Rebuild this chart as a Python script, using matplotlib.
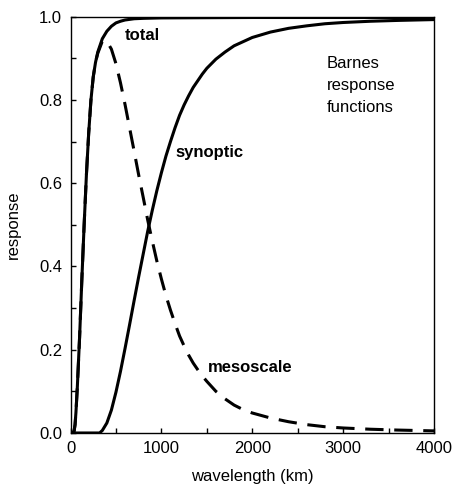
import matplotlib
matplotlib.use("Agg")
import matplotlib.pyplot as plt
from matplotlib.ticker import MultipleLocator, FormatStrFormatter

plt.rcParams['font.family'] = ['Liberation Sans', 'DejaVu Sans']

# Barnes response curves (wavelength in km, response 0..1)
total_km = [0, 25, 40, 50, 60, 75, 100, 125, 150, 175, 200, 225, 250, 275,
            300, 350, 400, 450, 500, 550, 600, 700, 800, 1000, 2000, 4000]
total_resp = [0.0, 0.0, 0.005, 0.02, 0.05, 0.11, 0.23, 0.37, 0.50, 0.62, 0.72,
              0.80, 0.855, 0.89, 0.915, 0.947, 0.965, 0.977, 0.985, 0.989,
              0.992, 0.995, 0.996, 0.997, 0.998, 0.998]

synoptic_km = [0, 320, 350, 400, 450, 500, 550, 600, 650, 700, 750, 800, 850,
               900, 950, 1000, 1050, 1100, 1150, 1200, 1250, 1300, 1350, 1400,
               1450, 1500, 1600, 1700, 1800, 1900, 2000, 2200, 2400, 2600,
               2800, 3000, 3300, 3600, 4000]
synoptic_resp = [0.0, 0.0, 0.006, 0.024, 0.055, 0.098, 0.148, 0.203, 0.26,
                 0.318, 0.375, 0.43, 0.485, 0.535, 0.582, 0.625, 0.665, 0.70,
                 0.733, 0.763, 0.788, 0.81, 0.83, 0.846, 0.862, 0.876, 0.898,
                 0.915, 0.93, 0.94, 0.95, 0.963, 0.972, 0.978, 0.983, 0.986,
                 0.989, 0.991, 0.993]

meso_km = [0, 25, 40, 50, 60, 75, 100, 125, 150, 175, 200, 225, 250, 275, 300,
           350, 400, 450, 500, 550, 600, 650, 700, 750, 800, 850, 900, 950,
           1000, 1050, 1100, 1150, 1200, 1250, 1300, 1350, 1400, 1450, 1500,
           1600, 1700, 1800, 1900, 2000, 2200, 2400, 2600, 2800, 3000, 3300,
           3600, 4000]
meso_resp = [0.0, 0.0, 0.005, 0.02, 0.05, 0.11, 0.23, 0.37, 0.50, 0.62, 0.72,
             0.80, 0.855, 0.89, 0.912, 0.941, 0.941, 0.922, 0.887, 0.841,
             0.789, 0.733, 0.677, 0.62, 0.566, 0.511, 0.461, 0.413, 0.37,
             0.33, 0.295, 0.263, 0.233, 0.209, 0.187, 0.168, 0.152, 0.137,
             0.124, 0.10, 0.082, 0.067, 0.056, 0.048, 0.036, 0.027, 0.02,
             0.015, 0.012, 0.009, 0.007, 0.005]

fig = plt.figure(figsize=(4.54, 4.86), dpi=100)
ax = fig.add_axes([0.1553, 0.1091, 0.8007, 0.8566])

ax.plot(meso_km, meso_resp, color='black', lw=2.2, dashes=(6, 3.5),
        dash_capstyle='butt', zorder=2)
ax.plot(synoptic_km, synoptic_resp, color='black', lw=2.2, zorder=3)
ax.plot(total_km, total_resp, color='black', lw=2.2, zorder=3)

ax.set_xlim(0, 4000)
ax.set_ylim(0, 1.0)
ax.xaxis.set_major_locator(MultipleLocator(1000))
ax.xaxis.set_minor_locator(MultipleLocator(500))
ax.yaxis.set_major_locator(MultipleLocator(0.2))
ax.yaxis.set_minor_locator(MultipleLocator(0.1))
ax.yaxis.set_major_formatter(FormatStrFormatter('%.1f'))
ax.tick_params(which='both', direction='in', length=3.5, width=1,
               labelsize=12, pad=6, top=False, right=False)
for s in ax.spines.values():
    s.set_linewidth(1.0)

ax.set_xlabel('wavelength (km)', fontsize=12, labelpad=9)
ax.set_ylabel('response', fontsize=12, labelpad=13)

ax.text(600, 0.944, 'total', fontsize=12, fontweight='bold', va='baseline')
ax.text(1150, 0.664, 'synoptic', fontsize=12, fontweight='bold', va='baseline')
ax.text(1516, 0.147, 'mesoscale', fontsize=12, fontweight='bold', va='baseline')
ax.text(2822, 0.876, 'Barnes', fontsize=12, va='baseline')
ax.text(2822, 0.824, 'response', fontsize=12, va='baseline')
ax.text(2822, 0.772, 'functions', fontsize=12, va='baseline')

fig.savefig('out.png', dpi=100)
